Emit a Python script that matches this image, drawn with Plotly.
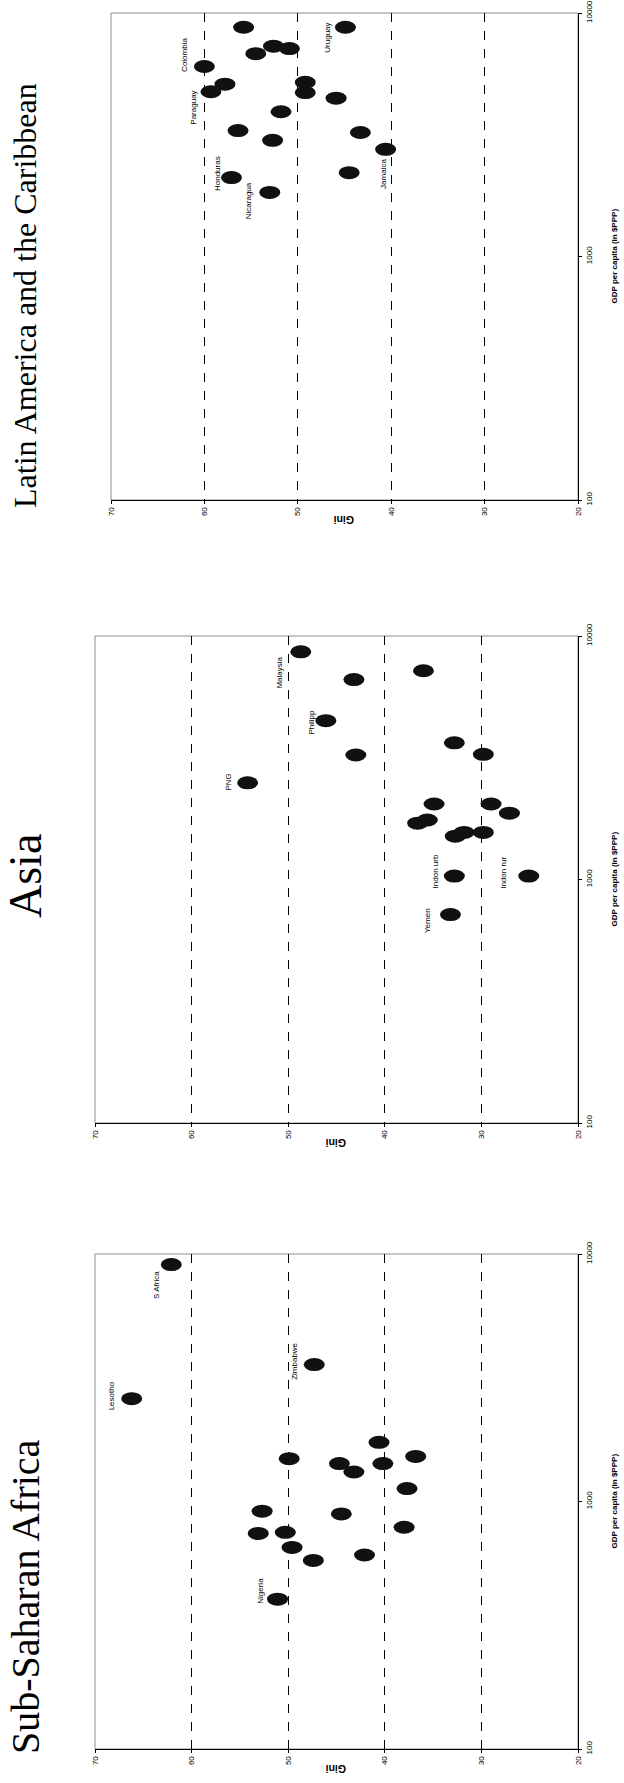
import numpy as np
import plotly.graph_objects as go

# ---------------- data ----------------
# Latin America and the Caribbean
lac_gini = [55.8, 44.9, 52.6, 50.9, 54.5, 60.0, 49.2, 57.8, 59.3, 49.2, 45.9, 51.8, 56.4, 43.3, 52.7, 40.6, 44.5, 57.1, 53.0]
lac_gdp = [8740, 8740, 7310, 7140, 6810, 6030, 5190, 5100, 4750, 4710, 4470, 3930, 3290, 3230, 3000, 2755, 2210, 2110, 1833]
lac_names = ["", "Uruguay", "", "", "", "Colombia", "", "", "Paraguay", "", "", "", "", "", "", "Jamaica", "", "Honduras", "Nicaragua"]

# Asia
asia_gini = [48.7, 36.0, 43.2, 46.1, 32.8, 43.0, 29.8, 54.2, 34.9, 29.0, 27.1, 36.6, 35.6, 32.7, 31.8, 29.8, 32.8, 25.1, 33.2]
asia_gdp = [8610, 7200, 6620, 4490, 3640, 3245, 3265, 2494, 2042, 2042, 1872, 1703, 1755, 1507, 1560, 1560, 1033, 1033, 718]
asia_names = ["Malaysia", "", "", "Philipp", "", "", "", "PNG", "", "", "", "", "", "", "", "", "Indon urb", "Indon rur", "Yemen"]

# Sub-Saharan Africa
ssa_gini = [62.1, 66.2, 47.3, 40.6, 49.9, 36.8, 44.7, 40.2, 43.2, 37.7, 52.7, 44.5, 53.1, 50.3, 38.0, 49.6, 42.1, 47.4, 51.1]
ssa_gdp = [9060, 2604, 3575, 1734, 1489, 1521, 1423, 1423, 1316, 1128, 914, 891, 743, 751, 787, 652, 608, 578, 403]
ssa_names = ["S Africa", "Lesotho", "Zimbabwe", "", "", "", "", "", "", "", "", "", "", "", "", "", "", "", "Nigeria"]

titles = ["Latin America and the Caribbean", "Asia", "Sub-Saharan Africa"]
gini_ticks = [20, 30, 40, 50, 60, 70]
gdp_ticks = [100, 1000, 10000]
gdp_tick_text = ["100", "1000", "10000"]
x_title = "GDP per capita (in $PPP)"
y_title = "Gini"

# ---------------- styling ----------------
W, H = 624, 1783
# plot boxes in pixels: (left, right, top, bottom)
boxes = [(111, 578, 13, 500), (95, 578, 636, 1123), (95, 578, 1254, 1749)]
title_centers = [296, 876, 1597]
title_sizes = [32, 46, 40]
label_offsets = {  # (dx, dy) in screen pixels
    "S Africa": (-15, 20), "Lesotho": (-20, -3), "Zimbabwe": (-20, -3), "Nigeria": (-17, -8),
    "Malaysia": (-21, 21), "Philipp": (-14, 1), "PNG": (-19, -1), "Indon urb": (-19, -5),
    "Indon rur": (-26, -3), "Yemen": (-23, 6),
    "Colombia": (-20, -12), "Uruguay": (-18, 10), "Paraguay": (-17, 16), "Honduras": (-14, -4),
    "Nicaragua": (-21, 8), "Jamaica": (-2, 25),
}
ELL_W, ELL_H = 21, 13
SANS = "Liberation Sans, Arial, sans-serif"
SERIF = "Liberation Serif, Times New Roman, serif"

panels = [
    (lac_gini, lac_gdp, lac_names),
    (asia_gini, asia_gdp, asia_names),
    (ssa_gini, ssa_gdp, ssa_names),
]

fig = go.Figure()
layout = dict(
    width=W, height=H, margin=dict(l=0, r=0, t=0, b=0, autoexpand=False),
    paper_bgcolor="white", plot_bgcolor="white", showlegend=False,
    font=dict(family=SANS, size=8, color="black"),
)
shapes, annotations = [], []

for i, ((gini, gdp, names), (l, r, t, b)) in enumerate(zip(panels, boxes)):
    n = i + 1
    xa = "xaxis" if n == 1 else f"xaxis{n}"
    ya = "yaxis" if n == 1 else f"yaxis{n}"
    xr = "x" if n == 1 else f"x{n}"
    yr = "y" if n == 1 else f"y{n}"
    ly = np.log10(np.array(gdp, dtype=float))

    layout[xa] = dict(
        domain=[l / W, r / W], anchor=yr, range=[70, 20], automargin=False,
        tickvals=gini_ticks, ticktext=[str(v) for v in gini_ticks], tickangle=-90,
        showgrid=True, gridcolor="black", griddash="dash", gridwidth=1,
        showline=True, linecolor="black", linewidth=1, ticks="outside", ticklen=3,
        tickcolor="black", zeroline=False, fixedrange=True,
        tickfont=dict(family=SANS, size=8),
    )
    layout[ya] = dict(
        domain=[1 - b / H, 1 - t / H], anchor=xr, side="right", range=[2, 4], automargin=False,
        tickvals=list(np.log10(gdp_ticks)), ticktext=gdp_tick_text, tickangle=-90,
        showgrid=False, showline=True, linecolor="black", linewidth=1,
        ticks="outside", ticklen=3, tickcolor="black", zeroline=False, fixedrange=True,
        tickfont=dict(family=SANS, size=8),
    )

    fig.add_trace(go.Scatter(
        x=gini, y=ly, mode="markers", xaxis=xr, yaxis=yr, cliponaxis=False,
        marker=dict(size=12, color="#111111", line=dict(width=0)),
        text=[f"{nm}" for nm in names], hoverinfo="x+text",
    ))

    # gray plot-area frame (top / left)
    shapes.append(dict(type="rect", xref=f"{xr} domain", yref=f"{yr} domain",
                       x0=0, x1=1, y0=0, y1=1, line=dict(color="#8c8c8c", width=1),
                       layer="below"))
    # elliptical markers
    for g, v in zip(gini, ly):
        shapes.append(dict(type="circle", xref=xr, yref=yr,
                           xsizemode="pixel", ysizemode="pixel",
                           xanchor=g, yanchor=v,
                           x0=-ELL_W / 2, x1=ELL_W / 2, y0=-ELL_H / 2, y1=ELL_H / 2,
                           fillcolor="#111111", line=dict(width=0), layer="above"))
    # point labels
    for g, v, nm in zip(gini, ly, names):
        if not nm:
            continue
        dx, dy = label_offsets.get(nm, (-18, 0))
        annotations.append(dict(x=g, y=v, xref=xr, yref=yr, text=nm, showarrow=False,
                                textangle=-90, xshift=dx, yshift=-dy,
                                font=dict(family=SANS, size=8, color="black")))
    # panel title
    annotations.append(dict(x=25 / W, y=1 - title_centers[i] / H, xref="paper", yref="paper",
                            text=titles[i], showarrow=False, textangle=-90,
                            xanchor="center", yanchor="middle",
                            font=dict(family=SERIF, size=title_sizes[i], color="black")))
    # GDP axis title
    annotations.append(dict(x=614 / W, y=1 - (t + b) / 2 / H, xref="paper", yref="paper",
                            text=f"<b>{x_title}</b>", showarrow=False, textangle=-90,
                            xanchor="center", yanchor="middle",
                            font=dict(family=SANS, size=8, color="black")))
    # Gini axis title
    annotations.append(dict(x=(l + r) / 2 / W, y=1 - (b + 20) / H, xref="paper", yref="paper",
                            text=f"<b>{y_title}</b>", showarrow=False, textangle=180,
                            xanchor="center", yanchor="middle",
                            font=dict(family=SANS, size=10.5, color="black")))

layout["shapes"] = shapes
layout["annotations"] = annotations
fig.update_layout(**layout)
fig.write_html("out.html", config={"displayModeBar": False, "staticPlot": False},
               post_script="document.body.style.margin='0';document.body.style.padding='0';")
